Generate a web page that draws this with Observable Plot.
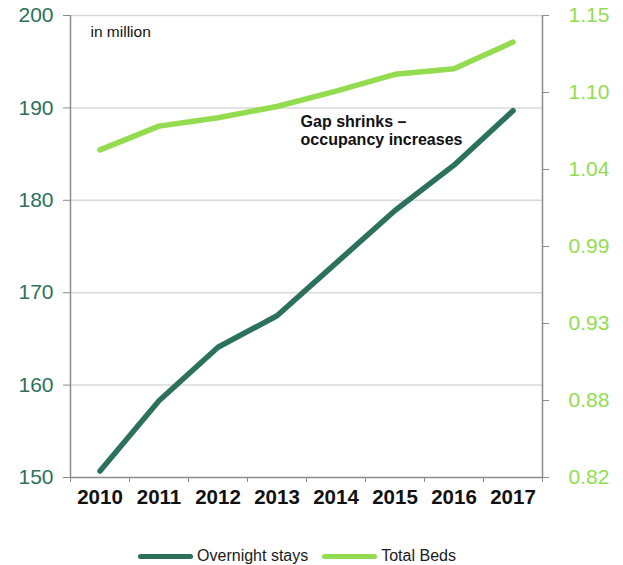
<!DOCTYPE html>
<html>
<head>
<meta charset="utf-8">
<script src="https://cdn.jsdelivr.net/npm/d3@7"></script>
<script src="https://cdn.jsdelivr.net/npm/@observablehq/plot@0.6"></script>
<style>
  body { margin: 0; background: #fff; font-family: "Liberation Sans", Arial, sans-serif; }
  #chart { width: 623px; }
  .legend { display: flex; justify-content: center; align-items: center; padding-right: 29px;
            margin-top: 26px; height: 20px; font-size: 16px; color: #1a1a1a; }
  .legend .item { display: flex; align-items: center; margin: 0 7px; }
  .legend .sw { width: 55px; height: 5px; border-radius: 3px; margin-right: 4px; }
</style>
</head>
<body>
<div id="chart"></div>
<script>
// Tourism in million: overnight stays (left axis) and total beds (right axis)
const years = [2010, 2011, 2012, 2013, 2014, 2015, 2016, 2017];
const overnightStays = [150.7, 158.3, 164.1, 167.5, 173.2, 178.9, 183.8, 189.7];
const totalBeds = [1.054, 1.071, 1.077, 1.085, 1.096, 1.108, 1.112, 1.131];

const leftTicks = [150, 160, 170, 180, 190, 200];
const rightTicks = [0.82, 0.875, 0.93, 0.985, 1.04, 1.095, 1.15];
const rightTickLabels = ["0.82", "0.88", "0.93", "0.99", "1.04", "1.10", "1.15"];

const darkGreen = "#2b715b";
const lightGreen = "#93dc4f";
const axisGray = "#8c8c8c";

// right-axis values mapped onto the left scale
const leftDomain = [150, 200];
const rightDomain = [0.82, 1.15];
const toLeft = v => leftDomain[0] + (v - rightDomain[0]) * (leftDomain[1] - leftDomain[0]) / (rightDomain[1] - rightDomain[0]);

const xDomain = [years[0] - 0.5, years[years.length - 1] + 0.5];
const bandEdges = d3.range(xDomain[0], xDomain[1] + 0.01, 1);

const stays = years.map((year, i) => ({year, value: overnightStays[i]}));
const beds = years.map((year, i) => ({year, value: toLeft(totalBeds[i])}));

const rightPos = rightTicks.map(toLeft);
const rightLabel = d => {
  const i = rightPos.findIndex(p => Math.abs(p - d) < 1e-6);
  return i >= 0 ? rightTickLabels[i] : "";
};

const chart = Plot.plot({
  width: 623,
  height: 520,
  marginTop: 15,
  marginBottom: 43,
  marginLeft: 70,
  marginRight: 81,
  style: {fontFamily: "Liberation Sans, Arial, sans-serif", background: "#fff"},
  x: {domain: xDomain, label: null},
  y: {domain: leftDomain, label: null},
  marks: [
    Plot.gridY(leftTicks.slice(1), {stroke: "#d9d9d9", strokeOpacity: 1, strokeWidth: 1.5}),
    Plot.ruleX([xDomain[0], xDomain[1]], {stroke: axisGray, strokeWidth: 1.5}),
    Plot.ruleY([leftDomain[0]], {stroke: axisGray, strokeWidth: 1.5}),
    Plot.axisY({anchor: "left", ticks: leftTicks, tickSize: 7, tickPadding: 10, tickFormat: d3.format("d"),
      stroke: axisGray, fill: darkGreen, fontSize: 21, label: null}),
    Plot.axisY({anchor: "right", ticks: rightPos, tickSize: 6, tickPadding: 20, tickFormat: rightLabel,
      stroke: axisGray, fill: lightGreen, fontSize: 21, label: null}),
    Plot.axisX({ticks: bandEdges, tickSize: 5, tickFormat: () => "", stroke: axisGray, label: null}),
    Plot.axisX({ticks: years, tickSize: 0, tickPadding: 12, tickFormat: d3.format("d"),
      fill: "#111", fontSize: 20.5, fontWeight: "bold", label: null}),
    Plot.line(beds, {x: "year", y: "value", stroke: lightGreen, strokeWidth: 5.5,
      strokeLinecap: "round", strokeLinejoin: "round"}),
    Plot.line(stays, {x: "year", y: "value", stroke: darkGreen, strokeWidth: 5.5,
      strokeLinecap: "round", strokeLinejoin: "round"}),
    Plot.text(["in million"], {frameAnchor: "top-left", dx: 20, dy: 10, fontSize: 15.5,
      fill: "#111", textAnchor: "start", lineAnchor: "top"}),
    Plot.text(["Gap shrinks –\noccupancy increases"], {x: 2013.4, y: 189.3, fontSize: 16,
      fontWeight: "bold", fill: "#111", textAnchor: "start", lineAnchor: "top", lineHeight: 1.13})
  ]
});
document.getElementById("chart").append(chart);

const legend = document.createElement("div");
legend.className = "legend";
legend.innerHTML = [["Overnight stays", darkGreen], ["Total Beds", lightGreen]]
  .map(([name, c]) => `<span class="item"><span class="sw" style="background:${c}"></span>${name}</span>`)
  .join("");
document.getElementById("chart").append(legend);
</script>
</body>
</html>
